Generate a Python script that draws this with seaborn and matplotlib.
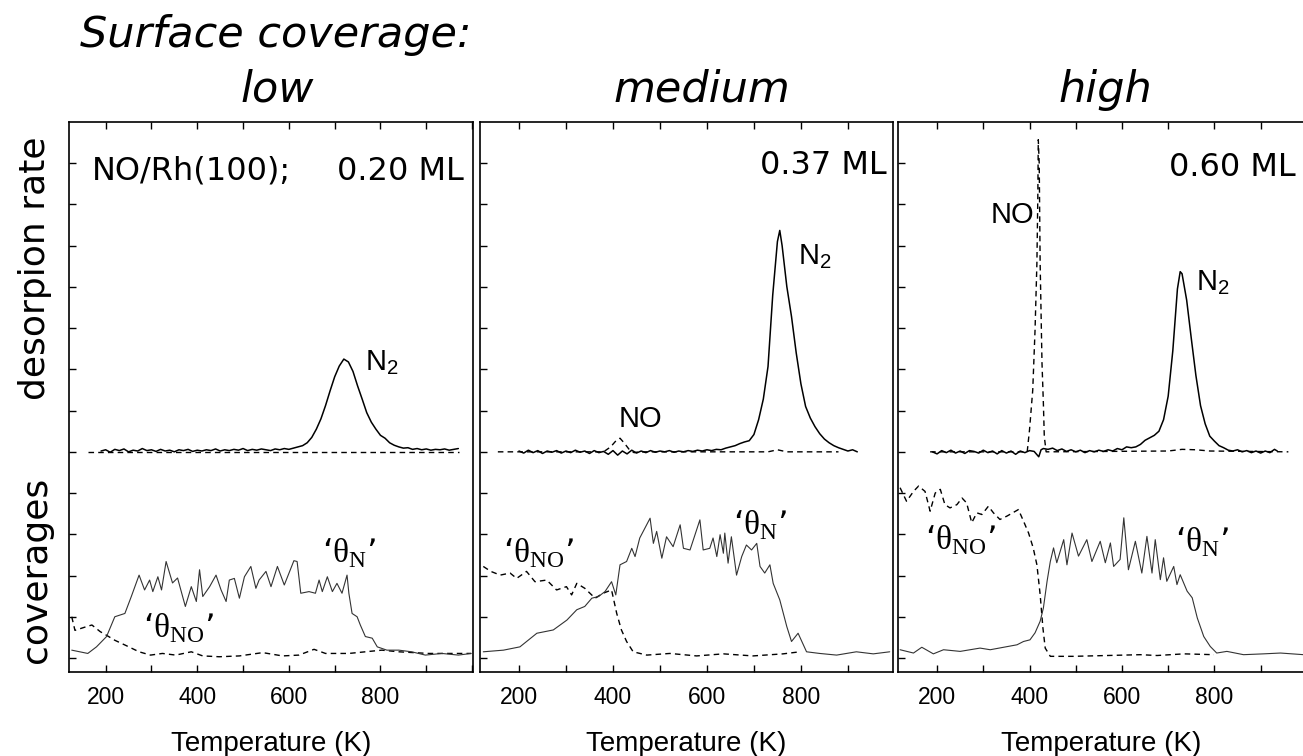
"""
TPD of NO on Rh(100) at three initial coverages: desorption rates (top)
and derived surface coverages (bottom), one panel per coverage.
"""

import matplotlib
matplotlib.use("Agg")
import matplotlib.pyplot as plt
from matplotlib.ticker import MultipleLocator, FuncFormatter
import seaborn as sns

# ---------------------------------------------------------------- data
# desorption rates are relative to the trace baseline (arb. units)
# coverages are in the same tick units as the panel's y axis

# --- 0.20 ML ---
P1_N2_T = [190, 200, 210, 220, 230, 240, 250, 260, 270, 280, 290, 300, 310,
           320, 330, 340, 350, 360, 370, 380, 390, 400, 410, 420, 430, 440,
           450, 460, 470, 480, 490, 500, 510, 520, 530, 540, 550, 560, 570,
           580, 590, 600, 610, 620, 630, 640, 650, 660, 670, 680, 690, 700,
           710, 720, 730, 740, 750, 760, 770, 780, 790, 800, 810, 820, 830,
           840, 850, 860, 870, 880, 890, 900, 910, 920, 930, 940, 950, 960,
           970]
P1_N2_R = [0.02, 0.05, -0.01, 0.06, 0.03, 0.07, 0.00, 0.04, 0.02, 0.08, 0.03,
           0.05, 0.01, 0.06, 0.02, 0.04, 0.00, 0.05, 0.03, 0.06, 0.01, 0.04,
           0.02, 0.05, 0.03, 0.07, 0.02, 0.05, 0.03, 0.06, 0.04, 0.08, 0.03,
           0.06, 0.04, 0.07, 0.05, 0.03, 0.07, 0.05, 0.08, 0.06, 0.09, 0.12,
           0.15, 0.22, 0.35, 0.55, 0.80, 1.12, 1.48, 1.82, 2.08, 2.25, 2.18,
           1.95, 1.60, 1.28, 0.95, 0.72, 0.55, 0.40, 0.33, 0.22, 0.16, 0.12,
           0.09, 0.10, 0.06, 0.08, 0.05, 0.07, 0.04, 0.06, 0.05, 0.07, 0.04,
           0.06, 0.08]
P1_NO_T = [162, 972]
P1_NO_R = [0.0, 0.0]

P1_TN_T = [126, 161, 180, 202, 220, 242, 256, 273, 285, 296, 303, 314, 322,
           332, 346, 357, 374, 387, 398, 405, 412, 427, 441, 452, 463, 470,
           481, 492, 503, 517, 528, 535, 550, 561, 575, 590, 611, 618, 626,
           644, 658, 666, 673, 684, 695, 705, 716, 727, 731, 738, 749, 756,
           767, 782, 793, 814, 840, 868, 898, 934, 970, 998]
P1_TN_C = [0.19, 0.11, 0.27, 0.52, 1.00, 1.08, 1.49, 2.01, 1.65, 1.89, 1.61,
           1.97, 1.65, 2.34, 1.82, 1.94, 1.25, 1.73, 1.37, 2.14, 1.49, 1.73,
           2.01, 1.65, 1.37, 1.89, 1.93, 1.45, 1.97, 2.22, 1.69, 1.89, 2.10,
           1.73, 2.22, 1.77, 2.36, 2.34, 1.57, 1.61, 1.57, 1.89, 1.61, 1.97,
           1.61, 1.81, 1.57, 2.01, 1.57, 1.08, 1.00, 0.80, 0.52, 0.48, 0.27,
           0.19, 0.19, 0.15, 0.07, 0.11, 0.07, 0.11]
P1_TNO_T = [126, 133, 158, 170, 188, 202, 220, 243, 273, 298, 324, 353, 387,
            412, 448, 492, 543, 586, 622, 655, 680, 731, 767, 803, 840, 905,
            998]
P1_TNO_C = [1.00, 0.67, 0.76, 0.80, 0.64, 0.55, 0.43, 0.31, 0.15, 0.07, 0.11,
            0.07, 0.15, 0.05, 0.03, 0.05, 0.13, 0.05, 0.07, 0.21, 0.11, 0.11,
            0.15, 0.19, 0.15, 0.11, 0.11]

# --- 0.37 ML ---
P2_N2_T = [200, 210, 220, 230, 240, 250, 260, 270, 280, 290, 300, 310, 320,
           330, 340, 350, 360, 370, 380, 390, 400, 410, 420, 430, 440, 450,
           460, 470, 480, 490, 500, 510, 520, 530, 540, 550, 560, 570, 580,
           590, 600, 610, 620, 630, 640, 650, 660, 670, 680, 690, 700, 710,
           720, 730, 740, 750, 755, 760, 770, 780, 790, 800, 810, 820, 830,
           840, 850, 860, 870, 880, 890, 900, 910, 920]
P2_N2_R = [0.02, -0.03, 0.04, -0.02, 0.03, -0.04, 0.02, -0.01, 0.03, -0.03,
           0.02, -0.02, 0.04, -0.01, 0.02, -0.04, 0.03, -0.02, 0.01, -0.06,
           0.03, -0.08, 0.02, -0.05, 0.04, -0.03, 0.02, -0.02, 0.03, -0.01,
           0.02, 0.00, 0.03, -0.01, 0.02, 0.00, 0.03, 0.01, 0.04, 0.02, 0.05,
           0.03, 0.06, 0.05, 0.09, 0.12, 0.15, 0.20, 0.24, 0.27, 0.42, 0.78,
           1.28, 2.07, 3.80, 5.10, 5.37, 5.00, 4.01, 3.28, 2.40, 1.65, 1.10,
           0.82, 0.61, 0.44, 0.31, 0.22, 0.15, 0.10, 0.06, 0.02, 0.05, 0.00]
P2_NO_T = [155, 380, 395, 405, 415, 425, 435, 445, 455, 730, 750, 770, 880]
P2_NO_R = [0.0, 0.0, 0.12, 0.25, 0.33, 0.20, 0.05, -0.02, 0.0, 0.0, 0.05,
           0.0, 0.0]

P2_TN_T = [124, 167, 202, 238, 273, 302, 323, 340, 355, 369, 383, 397, 406,
           415, 429, 440, 447, 457, 479, 486, 493, 504, 514, 528, 543, 550,
           564, 585, 592, 606, 613, 621, 628, 635, 638, 645, 652, 663, 674,
           684, 695, 706, 713, 723, 734, 741, 755, 770, 780, 794, 812, 840,
           876, 918, 954, 989]
P2_TN_C = [0.15, 0.19, 0.27, 0.60, 0.68, 0.92, 1.17, 1.25, 1.45, 1.49, 1.61,
           1.85, 1.53, 2.26, 2.34, 2.66, 2.46, 2.91, 3.39, 2.78, 3.07, 2.42,
           2.94, 2.70, 3.23, 2.66, 2.62, 3.35, 2.62, 2.66, 2.91, 2.46, 2.99,
           2.54, 3.03, 2.30, 2.94, 2.01, 2.46, 2.74, 2.62, 2.78, 2.22, 2.06,
           2.26, 1.81, 1.41, 0.76, 0.40, 0.60, 0.15, 0.11, 0.07, 0.15, 0.10,
           0.15]
P2_TNO_T = [124, 140, 160, 181, 195, 216, 234, 259, 280, 301, 312, 323, 340,
            362, 379, 397, 408, 418, 429, 443, 472, 521, 578, 635, 698, 762,
            798]
P2_TNO_C = [2.22, 2.10, 2.01, 2.06, 1.93, 2.10, 1.85, 1.89, 1.65, 1.73, 1.53,
            1.81, 1.69, 1.45, 1.57, 1.65, 1.08, 0.68, 0.40, 0.15, 0.07, 0.11,
            0.05, 0.10, 0.05, 0.10, 0.15]

# --- 0.60 ML ---
P3_N2_T = [190, 200, 210, 220, 230, 240, 250, 260, 270, 280, 290, 300, 310,
           320, 330, 340, 350, 360, 370, 380, 390, 400, 410, 420, 425, 430,
           440, 450, 460, 470, 480, 490, 500, 510, 520, 530, 540, 550, 560,
           570, 580, 590, 600, 610, 620, 630, 640, 650, 660, 670, 680, 690,
           700, 710, 720, 726, 730, 740, 750, 760, 770, 780, 790, 800, 810,
           820, 830, 840, 850, 860, 870, 880, 890, 900, 910, 920, 930, 936]
P3_N2_R = [0.00, -0.05, 0.03, -0.02, 0.04, -0.03, 0.02, -0.04, 0.03, 0.01,
           -0.03, 0.04, -0.02, 0.02, -0.05, 0.03, -0.03, 0.02, -0.06, 0.02,
           -0.02, 0.03, 0.01, -0.12, 0.05, 0.08, 0.06, 0.09, 0.03, 0.07, 0.01,
           0.05, 0.00, 0.04, -0.02, 0.03, 0.00, 0.04, 0.01, 0.05, 0.02, 0.08,
           0.05, 0.12, 0.10, 0.12, 0.18, 0.28, 0.34, 0.40, 0.50, 0.78, 1.35,
           2.45, 3.95, 4.37, 4.32, 3.68, 2.75, 1.85, 1.12, 0.68, 0.38, 0.26,
           0.15, 0.10, 0.04, 0.02, 0.05, 0.00, 0.03, -0.02, 0.02, -0.03, 0.02,
           -0.02, 0.06, 0.02]
P3_NO_T = [185, 395, 400, 407, 412, 416, 418, 419, 421, 423, 427, 430, 432,
           436, 700, 730, 760, 790, 960]
P3_NO_R = [0.0, 0.0, 0.53, 1.50, 2.96, 4.58, 6.20, 7.57, 7.00, 4.58, 2.16,
           1.18, 0.37, 0.0, 0.02, 0.06, 0.05, 0.02, 0.0]

P3_TN_T = [120, 149, 167, 192, 214, 250, 293, 315, 344, 373, 387, 401, 412,
           423, 430, 438, 445, 452, 459, 474, 481, 492, 506, 524, 535, 553,
           564, 575, 582, 596, 604, 614, 629, 643, 654, 665, 672, 683, 690,
           697, 712, 719, 726, 741, 752, 763, 777, 791, 805, 827, 863, 906,
           943, 993]
P3_TN_C = [0.20, 0.12, 0.26, 0.10, 0.20, 0.16, 0.24, 0.20, 0.26, 0.32, 0.40,
           0.44, 0.61, 0.89, 1.21, 1.86, 2.34, 2.67, 2.31, 2.87, 2.26, 3.03,
           2.47, 2.87, 2.34, 2.83, 2.31, 2.79, 2.22, 2.39, 3.40, 2.14, 2.83,
           2.06, 2.95, 2.06, 2.87, 1.90, 2.43, 1.86, 2.22, 1.78, 2.02, 1.62,
           1.46, 0.97, 0.52, 0.28, 0.12, 0.16, 0.08, 0.10, 0.12, 0.08]
P3_TNO_T = [120, 134, 149, 160, 174, 185, 196, 207, 217, 228, 243, 254, 264,
            275, 286, 297, 311, 322, 336, 351, 376, 387, 398, 408, 416, 423,
            429, 434, 445, 495, 568, 640, 676, 734, 799]
P3_TNO_C = [4.13, 3.80, 4.04, 4.17, 4.04, 3.56, 4.00, 4.09, 3.72, 3.64, 3.72,
            3.88, 3.76, 3.28, 3.52, 3.48, 3.68, 3.52, 3.36, 3.44, 3.60, 3.32,
            3.03, 2.67, 2.26, 1.54, 0.73, 0.24, 0.04, 0.04, 0.06, 0.08, 0.06,
            0.10, 0.08]

DOSES = ["0.20 ML", "0.37 ML", "0.60 ML"]
COVERAGE_WORDS = ["low", "medium", "high"]

# ---------------------------------------------------------------- layout
W, H = 1303, 756
BASE = 5.0  # offset of the desorption traces on the shared axis


def px_rect(left, top, right, bottom):
    return [left / W, 1 - bottom / H, (right - left) / W, (bottom - top) / H]


PANELS = [
    dict(rect=px_rect(69, 122, 473, 672), xlim=(120, 1002),
         n2=(P1_N2_T, P1_N2_R), no=(P1_NO_T, P1_NO_R),
         tn=(P1_TN_T, P1_TN_C), tno=(P1_TNO_T, P1_TNO_C),
         dose_xy=(981, 11.8), n2_xy=(766, 6.99), no_xy=None,
         tn_xy=(672, 2.33), tno_xy=(281, 0.49)),
    dict(rect=px_rect(480, 122, 893, 672), xlim=(117, 996),
         n2=(P2_N2_T, P2_N2_R), no=(P2_NO_T, P2_NO_R),
         tn=(P2_TN_T, P2_TN_C), tno=(P2_TNO_T, P2_TNO_C),
         dose_xy=(983, 11.95), n2_xy=(794, 9.54), no_xy=(411, 5.61),
         tn_xy=(655, 2.99), tno_xy=(166, 2.33)),
    dict(rect=px_rect(898, 122, 1305, 672), xlim=(115.5, 996),
         n2=(P3_N2_T, P3_N2_R), no=(P3_NO_T, P3_NO_R),
         tn=(P3_TN_T, P3_TN_C), tno=(P3_TNO_T, P3_TNO_C),
         dose_xy=(975, 11.9), n2_xy=(761, 8.93), no_xy=(315, 10.56),
         tn_xy=(715, 2.59), tno_xy=(174, 2.63)),
]

sns.set_style("ticks")
plt.rcParams["font.family"] = ["DejaVu Sans"]
plt.rcParams["axes.linewidth"] = 1.2
for key in ("text.color", "axes.labelcolor", "xtick.color", "ytick.color",
            "axes.edgecolor"):
    plt.rcParams[key] = "black"

DASH = (0, (4, 3))
SANS = "Liberation Sans"
SERIF = "Liberation Serif"

fig = plt.figure(figsize=(W / 100, H / 100), dpi=100)

for i, p in enumerate(PANELS):
    ax = fig.add_axes(p["rect"])

    t, r = p["no"]
    sns.lineplot(x=t, y=[BASE + v for v in r], ax=ax, color="black",
                 lw=1.0, linestyle=DASH, estimator=None, sort=False)
    t, r = p["n2"]
    sns.lineplot(x=t, y=[BASE + v for v in r], ax=ax, color="black",
                 lw=1.1, estimator=None, sort=False)
    t, c = p["tno"]
    sns.lineplot(x=t, y=c, ax=ax, color="black", lw=1.0, linestyle=DASH,
                 estimator=None, sort=False)
    t, c = p["tn"]
    sns.lineplot(x=t, y=c, ax=ax, color="#333333", lw=0.8,
                 estimator=None, sort=False)

    ax.set_xlim(*p["xlim"])
    ax.set_ylim(-0.34, 13.0)
    ax.set_yticks(range(0, 13))
    ax.set_yticklabels([])
    ax.xaxis.set_major_locator(MultipleLocator(100))
    ax.xaxis.set_major_formatter(FuncFormatter(
        lambda v, pos: f"{v:.0f}" if v in (200, 400, 600, 800) else ""))
    ax.tick_params(axis="x", direction="in", top=True, bottom=True,
                   length=5, width=1, pad=10, labelsize=16.5,
                   labelfontfamily=SANS)
    ax.tick_params(axis="y", direction="in", left=True, right=False,
                   length=5, width=1)
    ax.set_xlabel("Temperature (K)", fontsize=20, family=SANS, labelpad=16)
    ax.set_ylabel("")
    for s in ax.spines.values():
        s.set_visible(True)

    # annotations
    dx, dy = p["dose_xy"]
    ax.text(dx, dy, DOSES[i], ha="right", va="center", fontsize=23)
    if i == 0:
        ax.text(170, dy, "NO/Rh(100);", ha="left", va="center", fontsize=23)
    nx, ny = p["n2_xy"]
    ax.text(nx, ny, r"N$_\mathregular{2}$", ha="left", va="baseline",
            fontsize=21, family=SANS)
    if p["no_xy"] is not None:
        ox, oy = p["no_xy"]
        ax.text(ox, oy, "NO", ha="left", va="baseline", fontsize=21,
                family=SANS)
    tx, ty = p["tn_xy"]
    ax.text(tx, ty, "\u2018\u03b8$_\\mathregular{N}$\u2019", ha="left",
            va="baseline", fontsize=24, family=SERIF)
    tx, ty = p["tno_xy"]
    ax.text(tx, ty, "\u2018\u03b8$_\\mathregular{NO}$\u2019", ha="left",
            va="baseline", fontsize=24, family=SERIF)

# headings
fig.text(80 / W, 1 - 35 / H, "Surface coverage:", ha="left", va="center",
         fontsize=31, style="italic")
for word, cx in zip(COVERAGE_WORDS, [277, 702, 1105]):
    fig.text(cx / W, 1 - 90 / H, word, ha="center", va="center",
             fontsize=31, style="italic")

fig.text(35 / W, 1 - 268 / H, "desorpion rate", rotation=90, ha="center",
         va="center", fontsize=26)
fig.text(36 / W, 1 - 570 / H, "coverages", rotation=90, ha="center",
         va="center", fontsize=26)

fig.savefig("out.png", dpi=100)
